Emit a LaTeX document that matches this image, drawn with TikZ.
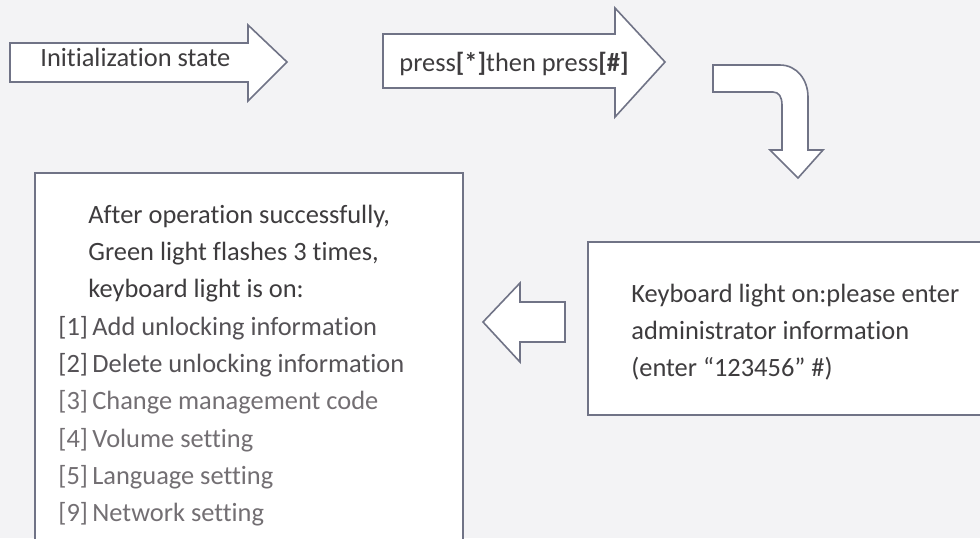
\documentclass[tikz,border=0pt]{standalone}
\usepackage{fontspec}
\setmainfont{Carlito}[Ligatures=NoCommon]
\usetikzlibrary{positioning}

\definecolor{paper}{HTML}{F3F3F5}
\definecolor{edge}{HTML}{707386}
\definecolor{ink}{HTML}{3E3C3E}
\definecolor{inkmid}{HTML}{555256}
\definecolor{inklight}{HTML}{736F73}

\tikzset{
  blockarrow/.style={draw=edge, line width=0.8pt, fill=white, line join=miter},
  frame/.style={draw=edge, line width=0.8pt, fill=white},
  txt/.style={anchor=base west, inner sep=0pt, text=ink, font=\fontsize{13.2}{16}\selectfont},
  txtm/.style={txt, text=inkmid},
  txtl/.style={txt, text=inklight}
}

\begin{document}
\begin{tikzpicture}[x=0.5pt, y=-0.5pt]
  \useasboundingbox (0,0) rectangle (980,538);
  \fill[paper] (0,0) rectangle (980,538);
  \clip (0,0) rectangle (980,538);

  % top arrows
  \draw[blockarrow] (10,43) -- (248,43) -- (248,25) -- (287,62) -- (248,101) -- (248,82) -- (10,82) -- cycle;
  \node[txt] (init) at (40,66) {Initialization state};

  \draw[blockarrow] (383,34) -- (615,34) -- (615,8) -- (665,62) -- (615,117) -- (615,88) -- (383,88) -- cycle;
  \node[txt] (press) at (399,71) {press\textbf{[*]}then press\textbf{[\#]}};

  % bent arrow
  \draw[blockarrow] (713,65) -- (780,65) .. controls (797,65) and (808,80) .. (808,97)
    -- (808,150) -- (823,150) -- (798,178) -- (770,150) -- (782,150) -- (782,105)
    .. controls (782,97) and (779,92) .. (773,92) -- (713,92) -- cycle;

  % administrator box
  \draw[frame] (588,242) rectangle (1000,415);
  \node[txt] (admin1) at (631,302) {Keyboard light on:please enter};
  \node[txt] (admin2) at (631,339) {administrator information};
  \node[txt] (admin3) at (631,376) {(enter “123456” \#)};

  % back arrow
  \draw[blockarrow] (565,302) -- (520,302) -- (520,283) -- (483,322) -- (520,362) -- (520,342) -- (565,342) -- cycle;

  % menu box
  \draw[frame] (35,173) rectangle (463,560);
  \node[txt] (head1) at (88,223) {After operation successfully,};
  \node[txt] (head2) at (88,260) {Green light flashes 3 times,};
  \node[txt] (head3) at (88,297) {keyboard light is on:};
  \node[txtm] (item1) at (58,335) {[1]\,Add unlocking information};
  \node[txtm] (item2) at (58,372) {[2]\,Delete unlocking information};
  \node[txtl] (item3) at (58,409) {[3]\,Change management code};
  \node[txtl] (item4) at (58,447) {[4]\,Volume setting};
  \node[txtl] (item5) at (58,484) {[5]\,Language setting};
  \node[txtl] (item9) at (58,521) {[9]\,Network setting};
\end{tikzpicture}
\end{document}
